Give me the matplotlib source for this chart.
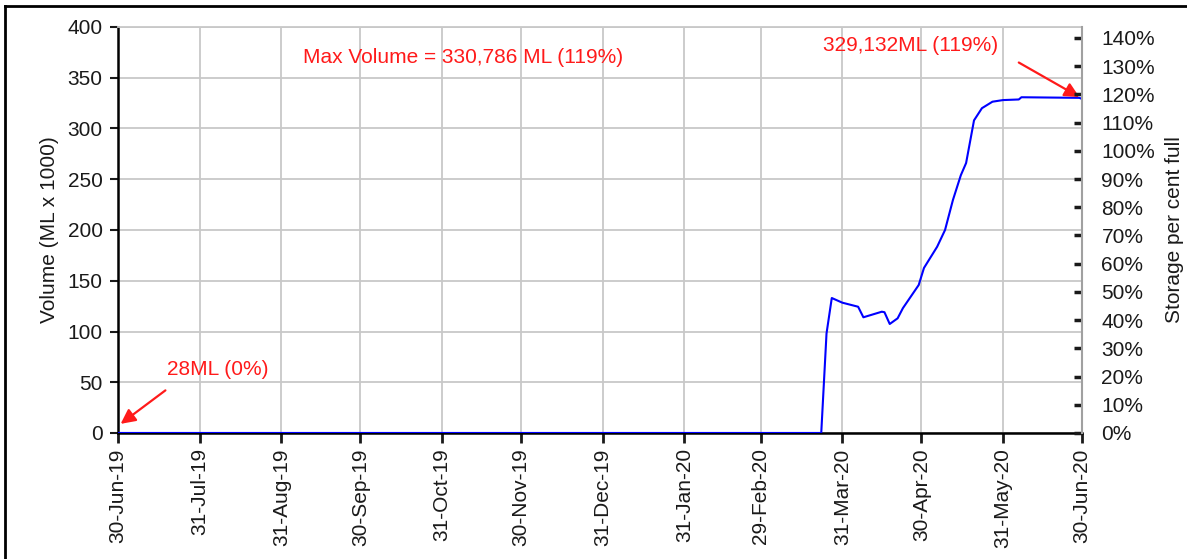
import matplotlib
matplotlib.use("Agg")
import matplotlib.pyplot as plt
import matplotlib.dates as mdates
from matplotlib.ticker import MultipleLocator, PercentFormatter
from matplotlib.lines import Line2D
import pandas as pd

plt.rcParams['font.family'] = ['Liberation Sans', 'DejaVu Sans']

# storage volume (ML x 1000) through the year
dates = ['2019-06-30', '2020-03-23', '2020-03-25', '2020-03-27', '2020-03-31',
         '2020-04-06', '2020-04-08', '2020-04-15', '2020-04-16', '2020-04-18',
         '2020-04-21', '2020-04-23', '2020-04-29', '2020-05-01', '2020-05-06',
         '2020-05-09', '2020-05-12', '2020-05-15', '2020-05-17', '2020-05-20',
         '2020-05-23', '2020-05-27', '2020-05-31', '2020-06-06', '2020-06-07',
         '2020-06-29', '2020-06-30']
volume = [0.028, 0.03, 98, 133, 128.4,
          124.4, 114, 119.5, 119, 107.4,
          113, 123, 145.8, 162.6, 183.5,
          200, 229.6, 254, 266, 308,
          320, 326.4, 328, 328.6, 330.786,
          330.2, 329.132]
capacity = 278.0  # ML x 1000 at 100%

tick_dates = ['2019-06-30', '2019-07-31', '2019-08-31', '2019-09-30', '2019-10-31',
              '2019-11-30', '2019-12-31', '2020-01-31', '2020-02-29', '2020-03-31',
              '2020-04-30', '2020-05-31', '2020-06-30']

max_label = "Max Volume = 330,786 ML (119%)"
end_label = "329,132ML (119%)"
start_label = "28ML (0%)"

x = pd.to_datetime(dates)
xt = pd.to_datetime(tick_dates)

fig = plt.figure(figsize=(11.87, 5.59), dpi=100)
ax = fig.add_axes([118/1187, 1-433/559, (1082-118)/1187, (433-27)/559])

ax.plot(x, volume, color='#0000ff', lw=1.5, zorder=3)
ax.set_xlim(xt[0], xt[-1])
ax.set_ylim(0, 400)
ax.yaxis.set_major_locator(MultipleLocator(50))
ax.set_xticks(xt)
ax.xaxis.set_major_formatter(mdates.DateFormatter('%d-%b-%y'))
ax.grid(True, color='#c8c8c8', lw=1.3, zorder=0)
ax.set_axisbelow(True)

fs = 15
tc = '#1a1a1a'
ax.tick_params(axis='y', direction='out', length=6, width=1.5, labelsize=fs, colors=tc, pad=5)
ax.tick_params(axis='x', direction='out', length=7, width=2, labelsize=fs, colors=tc,
               labelrotation=90, pad=4)
ax.spines['left'].set_color('black')
ax.spines['left'].set_linewidth(1.8)
ax.spines['bottom'].set_color('black')
ax.spines['bottom'].set_linewidth(1.8)
ax.spines['top'].set_color('#c8c8c8')
ax.spines['top'].set_linewidth(1.3)
ax.spines['right'].set_visible(False)
ax.set_ylabel("Volume (ML x 1000)", fontsize=fs, color=tc, labelpad=6)

ax2 = ax.twinx()
ax2.set_ylim(0, 400 / capacity * 100)
ax2.yaxis.set_major_locator(MultipleLocator(10))
ax2.yaxis.set_major_formatter(PercentFormatter(decimals=0))
ax2.tick_params(axis='y', direction='in', length=6, width=2.5, labelsize=fs, colors=tc, pad=14)
for s in ['left', 'top', 'bottom']:
    ax2.spines[s].set_visible(False)
ax2.spines['right'].set_color('#a0a0a0')
ax2.spines['right'].set_linewidth(1.5)
ax2.set_ylabel("Storage per cent full", fontsize=fs, color=tc, labelpad=7)

red = '#ff1a1a'
d = pd.Timestamp
ax.text(d('2019-11-08'), 370, max_label, color=red, fontsize=fs, ha='center', va='center')
ax.text(d('2020-04-26'), 382, end_label, color=red, fontsize=fs, ha='center', va='center')
ax.text(d('2019-08-07'), 63, start_label, color=red, fontsize=fs, ha='center', va='center')

arrow = dict(arrowstyle='-|>', color=red, lw=1.6, mutation_scale=22, shrinkA=0, shrinkB=0)
ax.annotate('', xy=(d('2020-06-29'), 331), xytext=(d('2020-06-06'), 365), arrowprops=arrow,
            annotation_clip=False)
ax.annotate('', xy=(d('2019-07-01'), 9), xytext=(d('2019-07-18'), 42), arrowprops=arrow,
            annotation_clip=False)

# outer frame along the left and top
fig.add_artist(Line2D([5/1187, 5/1187], [0, 1-6/559], color='black', lw=2,
                      transform=fig.transFigure))
fig.add_artist(Line2D([5/1187, 1], [1-6/559, 1-6/559], color='black', lw=2,
                      transform=fig.transFigure))

fig.savefig('out.png', dpi=100)
